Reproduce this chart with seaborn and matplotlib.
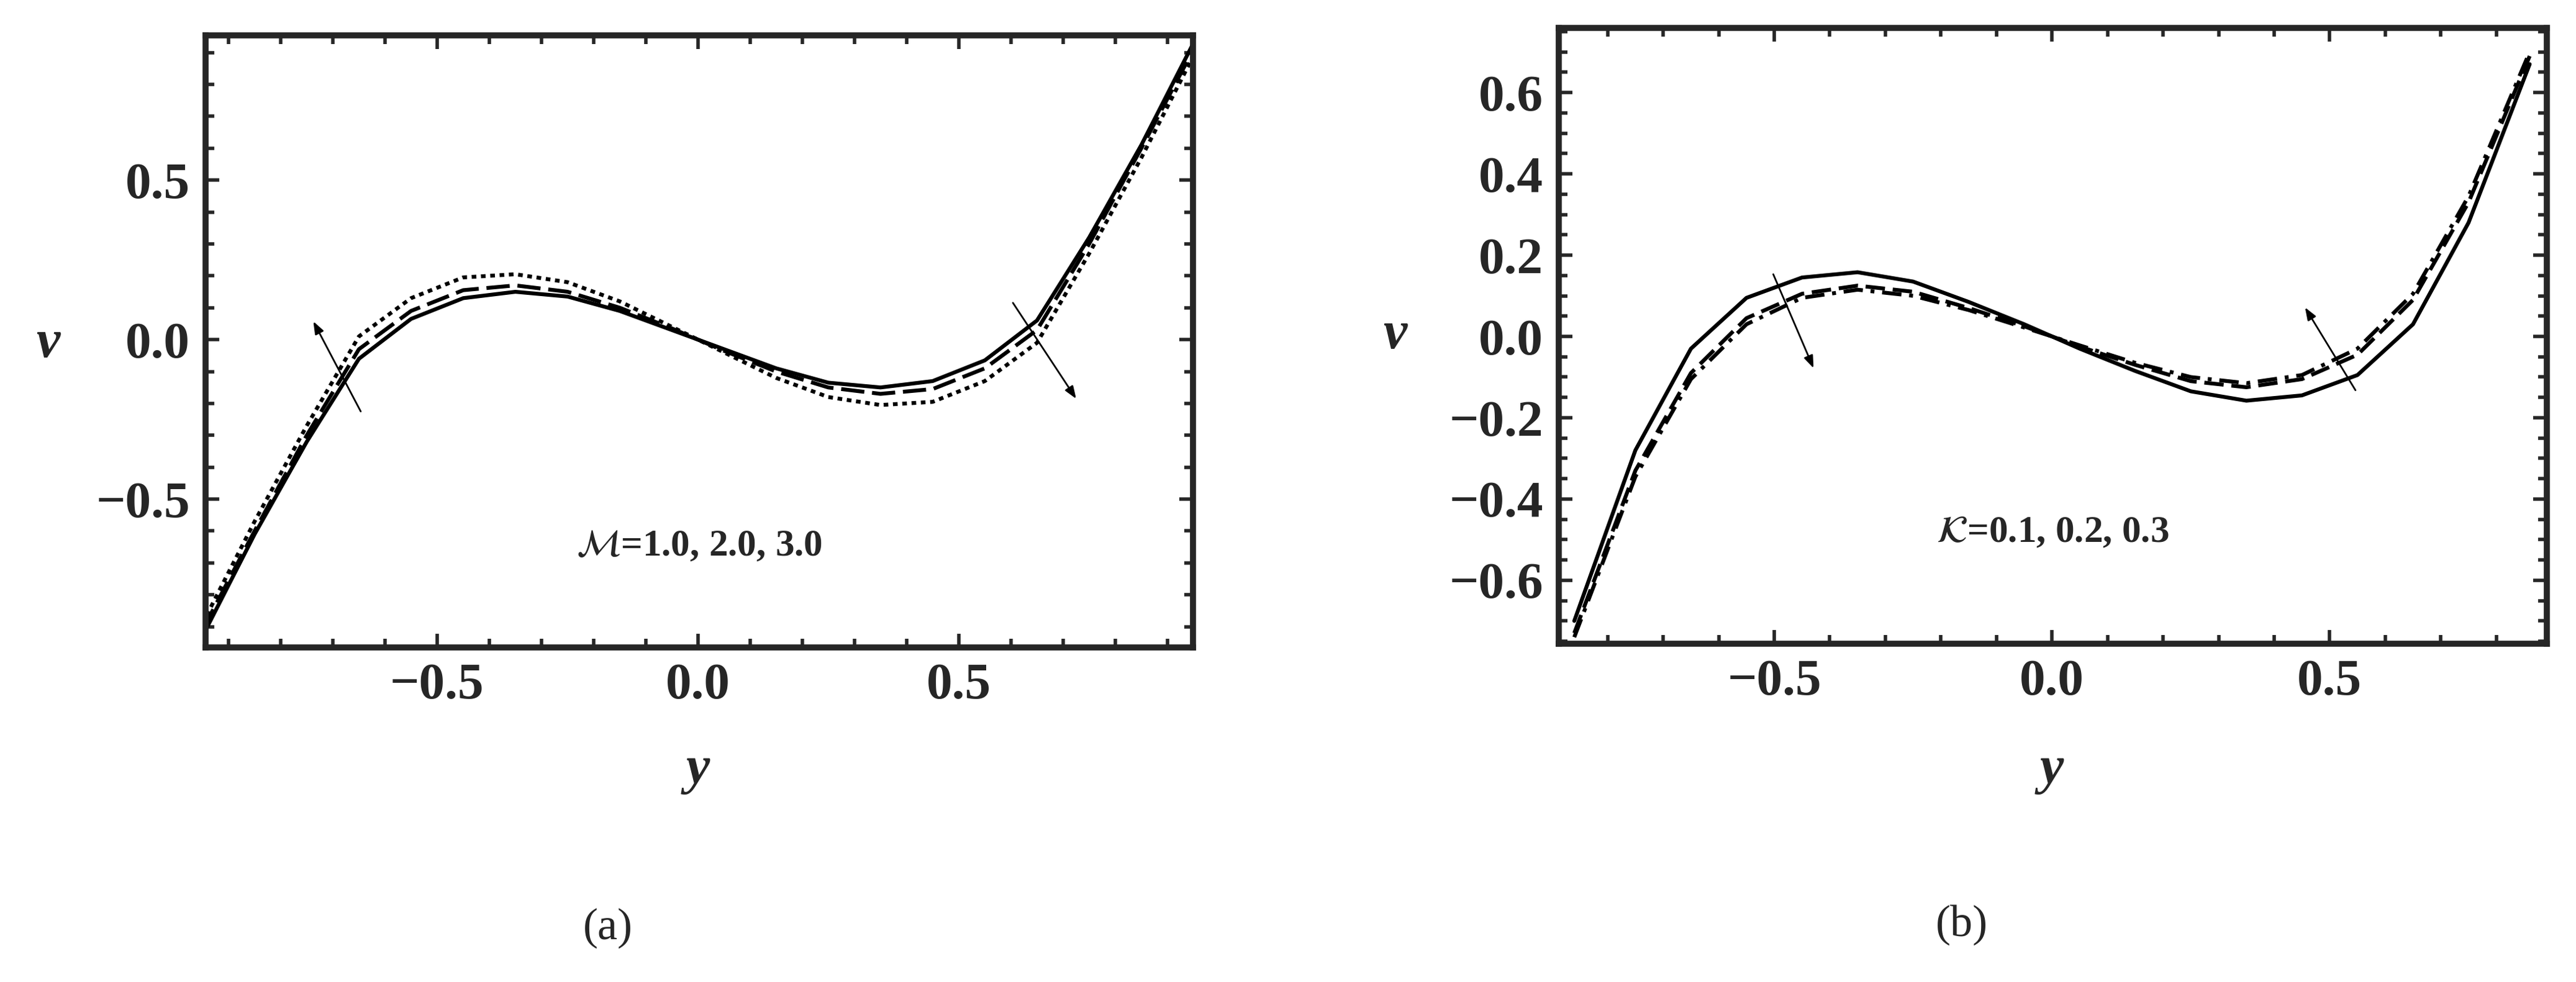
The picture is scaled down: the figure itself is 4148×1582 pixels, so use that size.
"""Velocity profiles v(y) for varying M and K (two panels)."""

import matplotlib
matplotlib.use("Agg")
import matplotlib.pyplot as plt
from matplotlib.ticker import MultipleLocator
import pandas as pd
import seaborn as sns

# panel (a): M = 1.0, 2.0, 3.0
y_a = [-0.95, -0.85, -0.75, -0.65, -0.55, -0.45, -0.35, -0.25, -0.15, -0.05,
       0.05, 0.15, 0.25, 0.35, 0.45, 0.55, 0.65, 0.75, 0.85, 0.95]
v_a_m1 = [-0.93, -0.61, -0.32, -0.06, 0.065, 0.13, 0.15, 0.135, 0.09, 0.03,
          -0.03, -0.09, -0.135, -0.15, -0.13, -0.065, 0.06, 0.32, 0.61, 0.93]
v_a_m2 = [-0.91, -0.60, -0.30, -0.03, 0.09, 0.155, 0.17, 0.15, 0.10, 0.035,
          -0.035, -0.10, -0.15, -0.17, -0.155, -0.09, 0.03, 0.30, 0.60, 0.91]
v_a_m3 = [-0.89, -0.57, -0.27, 0.01, 0.13, 0.195, 0.205, 0.18, 0.12, 0.04,
          -0.04, -0.12, -0.18, -0.205, -0.195, -0.13, -0.01, 0.27, 0.57, 0.89]

# panel (b): K = 0.1, 0.2, 0.3
y_b = [-0.86, -0.75, -0.65, -0.55, -0.45, -0.35, -0.25, -0.15, -0.05,
       0.05, 0.15, 0.25, 0.35, 0.45, 0.55, 0.65, 0.75, 0.86]
v_b_k1 = [-0.70, -0.28, -0.03, 0.095, 0.145, 0.158, 0.135, 0.085, 0.03,
          -0.03, -0.085, -0.135, -0.158, -0.145, -0.095, 0.03, 0.28, 0.67]
v_b_k2 = [-0.73, -0.33, -0.09, 0.045, 0.105, 0.125, 0.11, 0.07, 0.025,
          -0.025, -0.07, -0.11, -0.125, -0.105, -0.045, 0.09, 0.33, 0.69]
v_b_k3 = [-0.74, -0.345, -0.105, 0.03, 0.095, 0.115, 0.10, 0.065, 0.022,
          -0.022, -0.065, -0.10, -0.115, -0.095, -0.03, 0.105, 0.345, 0.70]

sns.set_style("ticks")
plt.rcParams["font.family"] = ["Liberation Serif", "DejaVu Serif"]
plt.rcParams["mathtext.fontset"] = "stix"

fig = plt.figure(figsize=(41.48, 15.82), dpi=100)
ax_a = fig.add_axes([0.0798, 0.3407, 0.3833, 0.623])
ax_b = fig.add_axes([0.6051, 0.3445, 0.3836, 0.627])

styles = ["-", (0, (6, 2)), (0, (1.2, 1.2))]
styles_b = ["-", (0, (5, 2)), (0, (5, 2, 1, 2))]


def draw_panel(ax, yy, series, lstyles):
    for vals, ls in zip(series, lstyles):
        df = pd.DataFrame({"y": yy, "v": vals})
        sns.lineplot(data=df, x="y", y="v", ax=ax, color="black",
                     linewidth=4.5, linestyle=ls, sort=True)


draw_panel(ax_a, y_a, [v_a_m1, v_a_m2, v_a_m3], styles)
draw_panel(ax_b, y_b, [v_b_k1, v_b_k2, v_b_k3], styles_b)

ax_a.set_xlim(-0.944, 0.949)
ax_a.set_ylim(-0.965, 0.953)
ax_a.xaxis.set_major_locator(MultipleLocator(0.5))
ax_a.yaxis.set_major_locator(MultipleLocator(0.5))
ax_a.xaxis.set_minor_locator(MultipleLocator(0.1))
ax_a.yaxis.set_minor_locator(MultipleLocator(0.1))

ax_b.set_xlim(-0.888, 0.891)
ax_b.set_ylim(-0.756, 0.759)
ax_b.xaxis.set_major_locator(MultipleLocator(0.5))
ax_b.yaxis.set_major_locator(MultipleLocator(0.2))
ax_b.xaxis.set_minor_locator(MultipleLocator(0.1))
ax_b.yaxis.set_minor_locator(MultipleLocator(0.05))

for ax in (ax_a, ax_b):
    ax.set_xlabel("")
    ax.set_ylabel("")
    for s in ax.spines.values():
        s.set_linewidth(7)
    ax.tick_params(which="both", direction="in", top=True, right=True,
                   labelsize=60, width=4, pad=18)
    ax.tick_params(which="major", length=16)
    ax.tick_params(which="minor", length=10)
    for lab in ax.get_xticklabels() + ax.get_yticklabels():
        lab.set_fontweight("bold")
    ax.xaxis.set_major_formatter(
        plt.FuncFormatter(lambda x, p: f"{x:.1f}".replace("-", "\u2212")))
    ax.yaxis.set_major_formatter(
        plt.FuncFormatter(lambda x, p: f"{x:.1f}".replace("-", "\u2212")))

arrow = dict(arrowstyle="-|>,head_length=1.2,head_width=0.45", lw=2, color="black")
ax_a.annotate("", xy=(-0.739, 0.062), xytext=(-0.645, -0.23), arrowprops=arrow)
ax_a.annotate("", xy=(0.727, -0.19), xytext=(0.602, 0.12), arrowprops=arrow)
ax_b.annotate("", xy=(-0.428, -0.082), xytext=(-0.503, 0.157), arrowprops=arrow)
ax_b.annotate("", xy=(0.454, 0.075), xytext=(0.548, -0.136), arrowprops=arrow)

ax_a.text(0.5, 0.165, r"$\mathcal{M}$=1.0, 2.0, 3.0", transform=ax_a.transAxes,
          ha="center", va="center", fontsize=44, fontweight="bold")
ax_b.text(0.5, 0.18, r"$\mathcal{K}$=0.1, 0.2, 0.3", transform=ax_b.transAxes,
          ha="center", va="center", fontsize=44, fontweight="bold")

# axis letters and panel captions placed in figure pixels
W, H = 4148, 1582
for x, y, s in [(77, 555, "v"), (2246, 540, "v"), (1124, 1240, "y"), (3304, 1240, "y")]:
    fig.text(x / W, 1 - y / H, s, ha="center", va="center", fontsize=62,
             fontweight="bold", fontstyle="italic")
fig.text(979 / W, 1 - 1495 / H, "(a)", ha="center", va="center", fontsize=52)
fig.text(3159 / W, 1 - 1490 / H, "(b)", ha="center", va="center", fontsize=52)

fig.savefig("out.png", dpi=100, facecolor="white")
